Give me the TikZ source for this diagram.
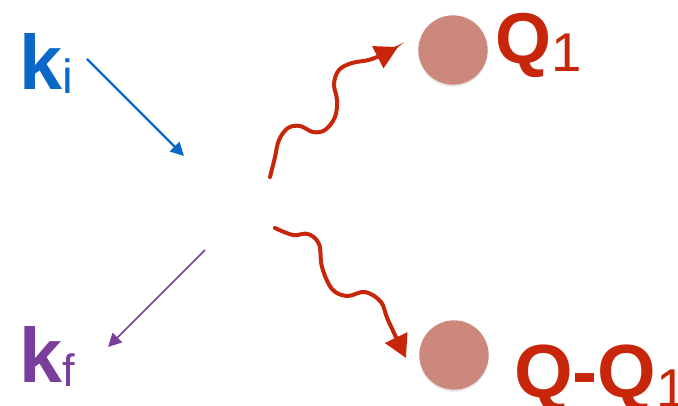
\documentclass[tikz,border=0pt]{standalone}
\usepackage{fontspec}
\setmainfont{Liberation Sans}
\usepackage{xcolor}
\usetikzlibrary{arrows.meta}
\usetikzlibrary{shadows}
\definecolor{kblue}{RGB}{12,104,200}
\definecolor{kpurple}{RGB}{122,62,157}
\definecolor{qred}{RGB}{200,38,10}
\definecolor{qblob}{RGB}{205,136,126}
\tikzstyle{lbl} = [inner sep=0pt, anchor=base west]
\tikzstyle{blob} = [circle, fill=qblob, minimum size=52pt, inner sep=0pt,
drop shadow={opacity=0.2, shadow xshift=0pt, shadow yshift=-1.5pt}]
\tikzstyle{wave} = [draw=qred, line width=3pt, line cap=round,
-{Triangle[length=17pt, width=18pt]}]
\tikzstyle{kline} = [line width=1.6pt, -{Triangle[length=10pt, width=10pt]}]

\begin{document}
\begin{tikzpicture}[x=0.75pt, y=-0.75pt]
        \useasboundingbox (0,0) rectangle (678,406);
        % labels
        \node[lbl, text=kblue] (ki) at (19,90)
            {\fontsize{58}{60}\selectfont\bfseries k\raisebox{-2.5pt}{\fontsize{36}{38}\mdseries\selectfont i}};
        \node[lbl, text=kpurple] (kf) at (19,382)
            {\fontsize{58}{60}\selectfont\bfseries k\raisebox{-3.5pt}{\fontsize{34}{36}\mdseries\selectfont f}};
        \node[lbl, text=qred] (q1) at (495,64)
            {\fontsize{54}{56}\selectfont\bfseries Q\raisebox{-6pt}{\fontsize{41}{43}\mdseries\selectfont 1}};
        \node[lbl, text=qred] (q2) at (514,397)
            {\fontsize{56.5}{58}\selectfont\bfseries Q-Q\raisebox{-7.5pt}{\fontsize{41}{43}\mdseries\selectfont 1}};
        % blobs
        \node[blob] (b1) at (453,50) {};
        \node[blob] (b2) at (454,355) {};
        % end points
        \coordinate (kin) at (87,59);
        \coordinate (kinend) at (184,156);
        \coordinate (kout) at (205,250);
        \coordinate (koutend) at (108,347);
        \coordinate (w1s) at (270,177);
        \coordinate (w1e) at (398,47);
        \coordinate (w2s) at (275,228);
        \coordinate (w2e) at (406,358);
        % electron lines
        \draw[kline, kblue] (kin) -- (kinend);
        \draw[kline, kpurple, line width=1.3pt] (kout) -- (koutend);
        % photons
        \draw[wave] plot[smooth, tension=0.6] coordinates {(w1s) (275,157) (279,140)
            (288,128) (300,126) (313,132) (325,130) (335,117) (337,100) (334,84)
            (339,70) (352,63) (372,59) (w1e)};
        \draw[wave] plot[smooth, tension=0.6] coordinates {(w2s) (293,235) (308,234)
            (319,244) (322,267) (332,289) (347,296) (365,292) (381,302) (388,320)
            (w2e)};
    \end{tikzpicture}
\end{document}
